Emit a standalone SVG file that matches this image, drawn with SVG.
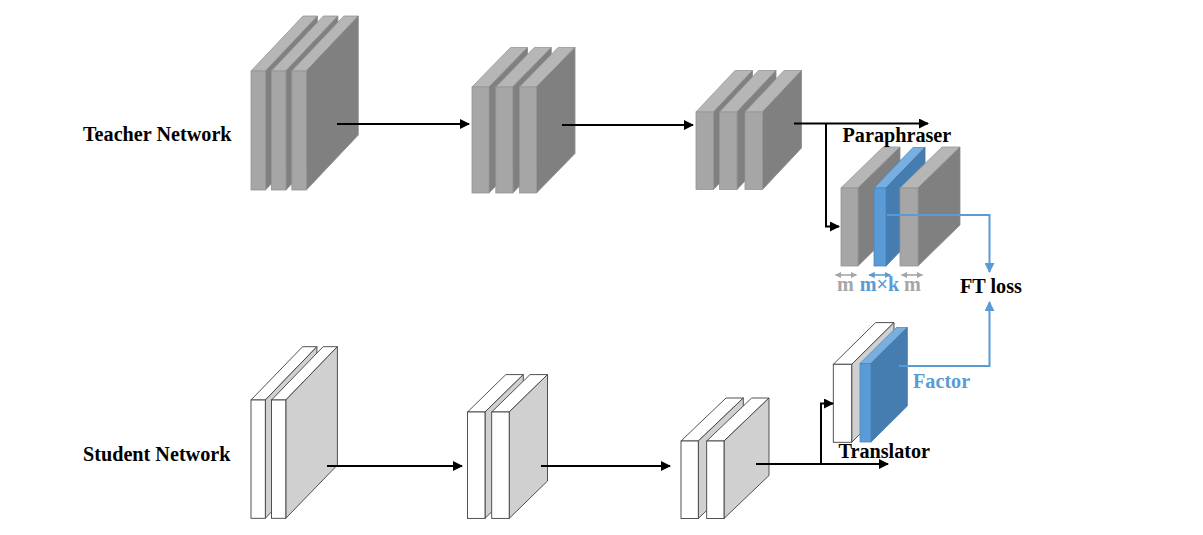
<svg xmlns="http://www.w3.org/2000/svg" width="1203" height="535" viewBox="0 0 1203 535">
  <defs>
    <style>
      .lbl { font-family: "Liberation Serif", "Times New Roman", serif; font-weight: bold; font-size: 20.2px; fill: #000; }
      .gtx { fill: #a6a6a6; }
      .btx { fill: #5b9bd5; }
      .tf { fill: #a6a6a6; stroke: #959595; stroke-width: 0.8; }
      .tt { fill: #b6b6b6; stroke: #959595; stroke-width: 0.8; }
      .ts { fill: #808080; stroke: #8a8a8a; stroke-width: 0.8; }
      .sf { fill: #ffffff; stroke: #404040; stroke-width: 0.9; }
      .st { fill: #ffffff; stroke: #404040; stroke-width: 0.9; }
      .ss { fill: #d0d0d0; stroke: #404040; stroke-width: 0.9; }
      .bf { fill: #5b9bd5; stroke: #4a86c0; stroke-width: 0.8; }
      .bt { fill: #78aee0; stroke: #4a86c0; stroke-width: 0.8; }
      .bs { fill: #467db0; stroke: #3f74a5; stroke-width: 0.8; }
      .blk { fill: none; stroke: #000; stroke-width: 2; }
      .blu { fill: none; stroke: #5b9bd5; stroke-width: 2; }
      .gdim { fill: none; stroke: #a6a6a6; stroke-width: 1.6; }
      .bdim { fill: none; stroke: #5b9bd5; stroke-width: 1.6; }
    </style>
    <marker id="ah" viewBox="0 0 10 10" refX="9" refY="5" markerWidth="5" markerHeight="5" orient="auto" markerUnits="strokeWidth">
      <path d="M0,0 L10,5 L0,10 z" fill="#000"/>
    </marker>
    <marker id="ahb" viewBox="0 0 10 10" refX="9" refY="5" markerWidth="5" markerHeight="5" orient="auto" markerUnits="strokeWidth">
      <path d="M0,0 L10,5 L0,10 z" fill="#5b9bd5"/>
    </marker>
    <marker id="ahg" viewBox="0 0 10 10" refX="9" refY="5" markerWidth="4" markerHeight="4" orient="auto-start-reverse" markerUnits="strokeWidth">
      <path d="M0,0 L10,5 L0,10 z" fill="#a6a6a6"/>
    </marker>
    <marker id="ahbd" viewBox="0 0 10 10" refX="9" refY="5" markerWidth="4" markerHeight="4" orient="auto-start-reverse" markerUnits="strokeWidth">
      <path d="M0,0 L10,5 L0,10 z" fill="#5b9bd5"/>
    </marker>
  </defs>

  <!-- Teacher network, stage 1 -->
  <g id="teacher-1">
    <polygon class="tt" points="251,71 303,16 317.5,16 265.5,71"/>
    <polygon class="ts" points="265.5,71 317.5,16 317.5,135 265.5,190"/>
    <rect class="tf" x="251" y="71" width="14.5" height="119"/>
    <polygon class="tt" points="271.4,71 323.4,16 337.9,16 285.9,71"/>
    <polygon class="ts" points="285.9,71 337.9,16 337.9,135 285.9,190"/>
    <rect class="tf" x="271.4" y="71" width="14.5" height="119"/>
    <polygon class="tt" points="291.8,71 343.8,16 358.3,16 306.3,71"/>
    <polygon class="ts" points="306.3,71 358.3,16 358.3,135 306.3,190"/>
    <rect class="tf" x="291.8" y="71" width="14.5" height="119"/>
  </g>

  <!-- Teacher network, stage 2 -->
  <g id="teacher-2">
    <polygon class="tt" points="472,87 510.5,47.5 527.5,47.5 489,87"/>
    <polygon class="ts" points="489,87 527.5,47.5 527.5,153.5 489,193"/>
    <rect class="tf" x="472" y="87" width="17" height="106"/>
    <polygon class="tt" points="495.8,87 534.3,47.5 551.3,47.5 512.8,87"/>
    <polygon class="ts" points="512.8,87 551.3,47.5 551.3,153.5 512.8,193"/>
    <rect class="tf" x="495.8" y="87" width="17" height="106"/>
    <polygon class="tt" points="519.5,87 558,47.5 575,47.5 536.5,87"/>
    <polygon class="ts" points="536.5,87 575,47.5 575,153.5 536.5,193"/>
    <rect class="tf" x="519.5" y="87" width="17" height="106"/>
  </g>

  <!-- Teacher network, stage 3 -->
  <g id="teacher-3">
    <polygon class="tt" points="696,112 735,70.5 752.5,70.5 713.5,112"/>
    <polygon class="ts" points="713.5,112 752.5,70.5 752.5,148 713.5,189.5"/>
    <rect class="tf" x="696" y="112" width="17.5" height="77.5"/>
    <polygon class="tt" points="719.5,112 758.5,70.5 776,70.5 737,112"/>
    <polygon class="ts" points="737,112 776,70.5 776,148 737,189.5"/>
    <rect class="tf" x="719.5" y="112" width="17.5" height="77.5"/>
    <polygon class="tt" points="745,112 784,70.5 801.5,70.5 762.5,112"/>
    <polygon class="ts" points="762.5,112 801.5,70.5 801.5,148 762.5,189.5"/>
    <rect class="tf" x="745" y="112" width="17.5" height="77.5"/>
  </g>

  <!-- Paraphraser -->
  <g id="paraphraser">
    <polygon class="tt" points="841,188 883,147 900,147 858,188"/>
    <polygon class="ts" points="858,188 900,147 900,225 858,266"/>
    <rect class="tf" x="841" y="188" width="17" height="78"/>
    <polygon class="bt" points="874,188 913,147.5 925,147.5 886,188"/>
    <polygon class="bs" points="886,188 925,147.5 925,225.5 886,266"/>
    <rect class="bf" x="874" y="188" width="12" height="78"/>
    <polygon class="tt" points="900,188 942,147 960,147 918,188"/>
    <polygon class="ts" points="918,188 960,147 960,225 918,266"/>
    <rect class="tf" x="900" y="188" width="18" height="78"/>
    <text class="lbl" x="842.5" y="141.5">Paraphraser</text>
  </g>

  <!-- Channel width annotations -->
  <g id="widths">
    <line class="gdim" x1="835.5" y1="275" x2="856.5" y2="275" marker-start="url(#ahg)" marker-end="url(#ahg)"/>
    <line class="bdim" x1="869" y1="275" x2="890.5" y2="275" marker-start="url(#ahbd)" marker-end="url(#ahbd)"/>
    <line class="gdim" x1="901.5" y1="275" x2="922.5" y2="275" marker-start="url(#ahg)" marker-end="url(#ahg)"/>
    <text class="lbl gtx" x="845.5" y="291" text-anchor="middle">m</text>
    <text class="lbl btx" x="879.5" y="291" text-anchor="middle">m×k</text>
    <text class="lbl gtx" x="912.5" y="291" text-anchor="middle">m</text>
  </g>

  <!-- Student network, stage 1 -->
  <g id="student-1">
    <polygon class="st" points="251,400 302.6,346.7 316.9,346.7 265.3,400"/>
    <polygon class="ss" points="265.3,400 316.9,346.7 316.9,465 265.3,518.3"/>
    <rect class="sf" x="251" y="400" width="14.3" height="118.3"/>
    <polygon class="st" points="271.5,400 323.1,346.7 337.4,346.7 285.8,400"/>
    <polygon class="ss" points="285.8,400 337.4,346.7 337.4,465 285.8,518.3"/>
    <rect class="sf" x="271.5" y="400" width="14.3" height="118.3"/>
  </g>

  <!-- Student network, stage 2 -->
  <g id="student-2">
    <polygon class="st" points="467.5,412 505.8,374.6 523.3,374.6 485,412"/>
    <polygon class="ss" points="485,412 523.3,374.6 523.3,481 485,518.4"/>
    <rect class="sf" x="467.5" y="412" width="17.5" height="106.4"/>
    <polygon class="st" points="491.7,412 530,374.6 547.5,374.6 509.2,412"/>
    <polygon class="ss" points="509.2,412 547.5,374.6 547.5,481 509.2,518.4"/>
    <rect class="sf" x="491.7" y="412" width="17.5" height="106.4"/>
  </g>

  <!-- Student network, stage 3 -->
  <g id="student-3">
    <polygon class="st" points="681,441 726,398 743.3,398 698.3,441"/>
    <polygon class="ss" points="698.3,441 743.3,398 743.3,475.5 698.3,518.5"/>
    <rect class="sf" x="681" y="441" width="17.3" height="77.5"/>
    <polygon class="st" points="706.7,441 751.7,398 769,398 724,441"/>
    <polygon class="ss" points="724,441 769,398 769,475.5 724,518.5"/>
    <rect class="sf" x="706.7" y="441" width="17.3" height="77.5"/>
  </g>

  <!-- Translator -->
  <g id="translator">
    <polygon class="st" points="833.3,364.3 875.6,322.6 894,322.6 851.7,364.3"/>
    <polygon class="ss" points="851.7,364.3 894,322.6 894,400.6 851.7,442.3"/>
    <rect class="sf" x="833.3" y="364.3" width="18.4" height="78"/>
    <polygon class="bt" points="860,363.5 896.3,327.5 907.3,327.5 871,363.5"/>
    <polygon class="bs" points="871,363.5 907.3,327.5 907.3,406 871,442"/>
    <rect class="bf" x="860" y="363.5" width="11" height="78.5"/>
    <text class="lbl" x="838.5" y="457.5">Translator</text>
  </g>

  <!-- Row labels -->
  <g id="teacher-label">
    <text class="lbl" x="83" y="140.5">Teacher Network</text>
  </g>
  <g id="student-label">
    <text class="lbl" x="83" y="460.5">Student Network</text>
  </g>

  <!-- Loss node -->
  <g id="ft-loss">
    <text class="lbl" x="960" y="292.5">FT loss</text>
  </g>
  <g id="factor-label">
    <text class="lbl btx" x="913" y="387.5">Factor</text>
  </g>

  <!-- Connectors -->
  <g id="connectors">
    <line class="blk" x1="337" y1="124" x2="469" y2="124" marker-end="url(#ah)"/>
    <line class="blk" x1="562" y1="125" x2="693" y2="125" marker-end="url(#ah)"/>
    <line class="blk" x1="794" y1="123.5" x2="928" y2="123.5" marker-end="url(#ah)"/>
    <polyline class="blk" points="826,123.5 826,226.5 839,226.5" marker-end="url(#ah)"/>

    <line class="blk" x1="327" y1="466" x2="462" y2="466" marker-end="url(#ah)"/>
    <line class="blk" x1="541" y1="466" x2="670" y2="466" marker-end="url(#ah)"/>
    <line class="blk" x1="756" y1="464" x2="888" y2="464" marker-end="url(#ah)"/>
    <polyline class="blk" points="821,464 821,403.5 833,403.5" marker-end="url(#ah)"/>

    <polyline class="blu" points="887,215 989.5,215 989.5,272" marker-end="url(#ahb)"/>
    <polyline class="blu" points="899,366 989.5,366 989.5,302" marker-end="url(#ahb)"/>
  </g>
</svg>
